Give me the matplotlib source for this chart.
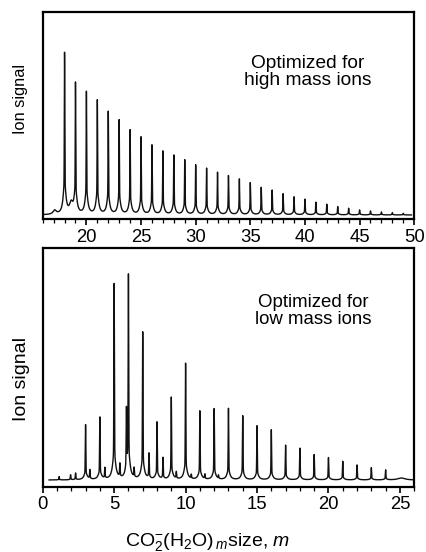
import matplotlib.pyplot as plt
import numpy as np

plt.rcParams['font.family'] = ['Liberation Sans', 'DejaVu Sans']
plt.rcParams['mathtext.fontset'] = 'custom'
plt.rcParams['mathtext.rm'] = 'Liberation Sans'
plt.rcParams['mathtext.it'] = 'Liberation Sans:italic'

# Upper spectrum (optimized for high mass ions): cluster size m and peak height (arb.)
high_m = [18, 19, 20, 21, 22, 23, 24, 25, 26, 27, 28, 29, 30, 31, 32, 33,
          34, 35, 36, 37, 38, 39, 40, 41, 42, 43, 44, 45, 46, 47, 48, 49]
high_h = [483, 390, 367, 342, 308, 283, 253, 232, 208, 190, 178, 164, 149, 139, 127, 117,
          107, 96, 82, 74, 63, 54, 47, 38, 32, 25, 20, 15, 12, 9, 7, 5]
# small broad features in the upper trace
high_extra_pos = [17.1, 18.6]
high_extra_h = [12, 30]

# Lower spectrum (optimized for low mass ions)
low_m = [3, 4, 5, 6, 7, 8, 9, 10, 11, 12, 13, 14, 15, 16, 17, 18, 19, 20, 21, 22, 23, 24]
low_h = [165, 187, 587, 609, 442, 172, 247, 349, 206, 213, 214, 192, 162, 150, 104, 95,
         76, 67, 56, 45, 37, 30]
# satellite peaks between the main series
low_sat_pos = [1.15, 1.95, 2.3, 3.3, 4.35, 5.4, 5.86, 6.4, 7.44, 8.42, 9.35, 10.4, 11.35, 12.3]
low_sat_h = [10, 15, 20, 27, 32, 40, 182, 28, 75, 64, 20, 12, 14, 10]
low_extra_pos = [25.1]
low_extra_h = [6]


def trace(x, pos, h, base_frac, gam, sig):
    y = np.zeros_like(x)
    for p, a in zip(pos, h):
        y += a * base_frac / (1 + ((x - p) / gam) ** 2)
        y += a * (1 - base_frac) * np.exp(-0.5 * ((x - p) / sig) ** 2)
    return y


def broad(x, pos, h, gam):
    y = np.zeros_like(x)
    for p, a in zip(pos, h):
        y += a / (1 + ((x - p) / gam) ** 2)
    return y


fig = plt.figure(figsize=(4.27, 5.52), dpi=100)
ax1 = fig.add_axes([0.100, 0.6033, 0.870, 0.375])
ax2 = fig.add_axes([0.100, 0.1183, 0.870, 0.4324])

x1 = np.arange(16.0, 49.75, 0.002)
y1 = trace(x1, high_m, high_h, 0.2, 0.14, 0.02) + broad(x1, high_extra_pos, high_extra_h, 0.18)
ax1.plot(x1, y1, color='#111111', lw=1.0)
ax1.set_ylim(-12, 609)

x2 = np.arange(0.45, 25.9, 0.002)
y2 = (trace(x2, low_m, low_h, 0.14, 0.12, 0.018)
      + trace(x2, low_sat_pos, low_sat_h, 0.15, 0.08, 0.018)
      + broad(x2, low_extra_pos, low_extra_h, 0.3))
ax2.plot(x2, y2, color='#111111', lw=1.0)
ax2.set_ylim(-20, 696)

for ax in (ax1, ax2):
    for s in ax.spines.values():
        s.set_linewidth(1.6)
    ax.set_yticks([])
    ax.set_xticks(np.arange(0, 51, 5))
    ax.set_xticks(np.arange(0, 51, 1), minor=True)
    ax.tick_params(axis='x', which='major', direction='out', length=4, width=1.2,
                   labelsize=13.3, pad=3)
    ax.tick_params(axis='x', which='minor', direction='out', length=3, width=0.9)

ax1.set_xlim(16, 50)
ax2.set_xlim(0, 26)

fig.text(20 / 427, 1 - 99 / 552, 'Ion signal', rotation=90, ha='center', va='center', fontsize=11.8)
fig.text(22 / 427, 1 - 379 / 552, 'Ion signal', rotation=90, ha='center', va='center', fontsize=14)

fig.text(308 / 427, 1 - 72 / 552, 'Optimized for\nhigh mass ions', ha='center', va='center',
         fontsize=13.8, linespacing=1.05)
fig.text(313 / 427, 1 - 311 / 552, 'Optimized for\nlow mass ions', ha='center', va='center',
         fontsize=13.4, linespacing=1.05)

fig.text(208 / 427, 1 - 542 / 552, r'CO$_2^{-}$(H$_2$O)$_{\,m}$size, $m$', ha='center',
         va='center', fontsize=14)

fig.savefig('out.png', dpi=100)
